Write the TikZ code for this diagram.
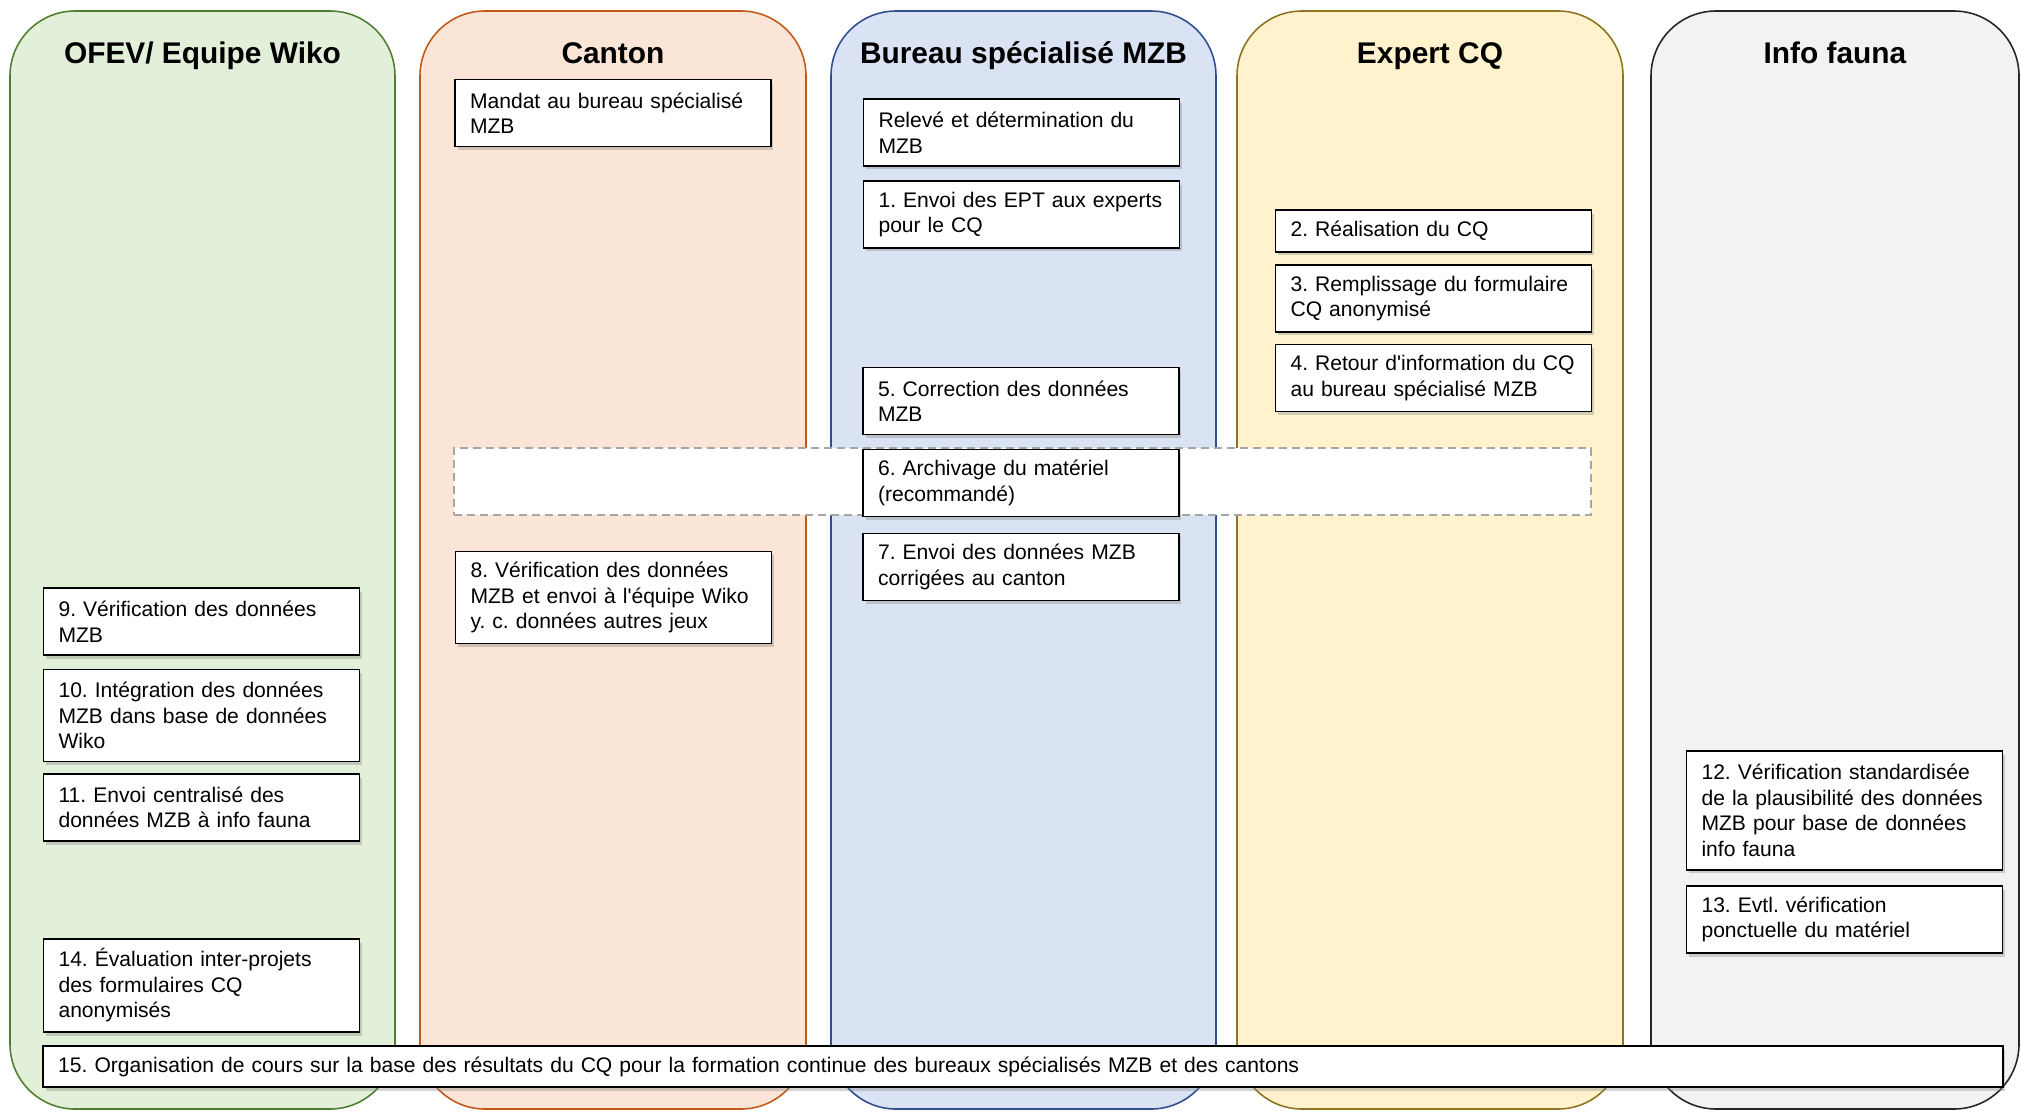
\documentclass[tikz,border=0pt]{standalone}
\usepackage{fontspec}
\setmainfont{Liberation Sans}
\usepackage{tikz}
\usetikzlibrary{shadows}
\definecolor{wikofill}{HTML}{E2F0D9}
\definecolor{wikoline}{HTML}{507E32}
\definecolor{cantonfill}{HTML}{FBE5D6}
\definecolor{cantonline}{HTML}{C05A1A}
\definecolor{mzbfill}{HTML}{DAE3F3}
\definecolor{mzbline}{HTML}{2F4F8F}
\definecolor{cqfill}{HTML}{FFF2CC}
\definecolor{cqline}{HTML}{8F7420}
\definecolor{faunafill}{HTML}{F2F2F2}
\definecolor{faunaline}{HTML}{262626}
\frenchspacing
\hyphenpenalty=10000
\exhyphenpenalty=10000
\tikzset{
	lane/.style={line width=0.9pt, rounded corners=1.3cm},
	lanetitle/.style={anchor=base, font=\fontsize{17}{20}\selectfont\bfseries},
	taskbox/.style={draw=black, line width=0.85pt, fill=white, align=left,
		inner xsep=0.3cm, inner ysep=2pt, text width=5.72cm, minimum height=1.34cm,
		font=\fontsize{12}{14.5}\selectfont,
		drop shadow={shadow xshift=0.05cm, shadow yshift=-0.07cm, opacity=0.35}},
	optband/.style={draw=black!35, line width=0.8pt, dash pattern=on 0.16cm off 0.1cm, fill=white}
}

\begin{document}
\begin{tikzpicture}[x=0.02cm, y=-0.02cm]
	\useasboundingbox (0,0) rectangle (2022,1112);
	\draw[lane, draw=wikoline, fill=wikofill] (10,11) rectangle (395,1109);
	\draw[lane, draw=cantonline, fill=cantonfill] (420,11) rectangle (806,1109);
	\draw[lane, draw=mzbline, fill=mzbfill] (831,11) rectangle (1216,1109);
	\draw[lane, draw=cqline, fill=cqfill] (1237,11) rectangle (1623,1109);
	\draw[lane, draw=faunaline, fill=faunafill] (1651,11) rectangle (2019,1109);
	\node (hwiko) at (202.5,63) [lanetitle] {OFEV/ Equipe Wiko};
	\node (hcanton) at (613,63) [lanetitle] {Canton};
	\node (hmzb) at (1023.5,63) [lanetitle] {Bureau spécialisé MZB};
	\node (hcq) at (1430,63) [lanetitle] {Expert CQ};
	\node (hfauna) at (1835,63) [lanetitle] {Info fauna};
	\node (band) at (1022.5,481.5) [optband, minimum width=22.74cm, minimum height=1.34cm] {};
	\node (mandat) at (613,113) [taskbox] {Mandat au bureau spécialisé\\MZB};
	\node (releve) at (1021.5,132.5) [taskbox] {Relevé et détermination du\\MZB};
	\node (t1) at (1021.5,214.5) [taskbox] {1. Envoi des EPT aux experts\\pour le CQ};
	\node (t2) at (1433.5,231) [taskbox, minimum height=0.84cm] {2. Réalisation du CQ};
	\node (t3) at (1433.5,298.5) [taskbox] {3. Remplissage du formulaire\\CQ anonymisé};
	\node (t4) at (1433.5,378) [taskbox] {4. Retour d\textquotesingle information du CQ\\au bureau spécialisé MZB};
	\node (t5) at (1021,401) [taskbox] {5. Correction des données\\MZB};
	\node (t6) at (1021,483) [taskbox] {6. Archivage du matériel\\(recommandé)};
	\node (t7) at (1021,567) [taskbox] {7. Envoi des données MZB\\corrigées au canton};
	\node (t8) at (613.5,597.5) [taskbox, minimum height=1.84cm] {8. Vérification des données\\MZB et envoi à l\textquotesingle équipe Wiko\\y. c. données autres jeux};
	\node (t9) at (201.5,621.5) [taskbox] {9. Vérification des données\\MZB};
	\node (t10) at (201.5,715.5) [taskbox, minimum height=1.84cm] {10. Intégration des données\\MZB dans base de données\\Wiko};
	\node (t11) at (201.5,807.5) [taskbox] {11. Envoi centralisé des\\données MZB à info fauna};
	\node (t12) at (1844.5,810.5) [taskbox, minimum height=2.38cm] {12. Vérification standardisée\\de la plausibilité des données\\MZB pour base de données\\info fauna};
	\node (t13) at (1844.5,919.5) [taskbox] {13. Evtl. vérification\\ponctuelle du matériel};
	\node (t14) at (201.5,985.5) [taskbox, minimum height=1.86cm] {14. Évaluation inter-projets\\des formulaires CQ\\anonymisés};
	\node (t15) at (1023,1066.5) [taskbox, text width=38.6cm, minimum height=0.82cm] {15. Organisation de cours sur la base des résultats du CQ pour la formation continue des bureaux spécialisés MZB et des cantons};
\end{tikzpicture}
\end{document}
